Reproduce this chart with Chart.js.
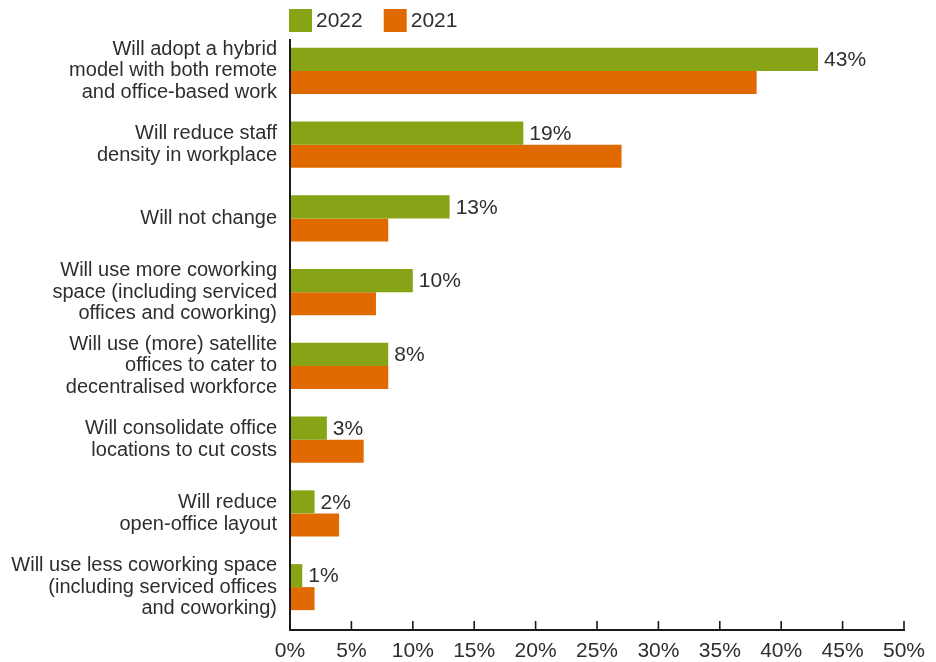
<!DOCTYPE html>
<html>
<head>
<meta charset="utf-8">
<script src="https://cdn.jsdelivr.net/npm/chart.js@4/dist/chart.umd.min.js"></script>
<style>
  html, body { margin: 0; padding: 0; background: #ffffff; }
  #wrap { width: 936px; height: 662px; }
</style>
</head>
<body>
<div id="wrap"><canvas id="c" width="936" height="662"></canvas></div>
<script>
const categories = [
  ["Will adopt a hybrid", "model with both remote", "and office-based work"],
  ["Will reduce staff", "density in workplace"],
  "Will not change",
  ["Will use more coworking", "space (including serviced", "offices and coworking)"],
  ["Will use (more) satellite", "offices to cater to", "decentralised workforce"],
  ["Will consolidate office", "locations to cut costs"],
  ["Will reduce", "open-office layout"],
  ["Will use less coworking space", "(including serviced offices", "and coworking)"]
];
const seriesNames = ["2022", "2021"];
const values2022 = [43, 19, 13, 10, 8, 3, 2, 1];
const values2021 = [38, 27, 8, 7, 8, 6, 4, 2];
const xMin = 0, xMax = 50, xStep = 5;

const GREEN = "#86a416";
const ORANGE = "#e06a00";
const TEXT = "#2e2e2e";
const FONT = "'Liberation Sans', Arial, Helvetica, sans-serif";

const axisPlugin = {
  id: "axisLines",
  afterDatasetsDraw(chart) {
    const ctx = chart.ctx;
    const area = chart.chartArea;
    const xs = chart.scales.x;
    const axisY = area.bottom + 6;
    ctx.save();
    ctx.strokeStyle = "#1a1a1a";
    ctx.lineWidth = 2;
    ctx.beginPath();
    ctx.moveTo(area.left, area.top + 5);
    ctx.lineTo(area.left, axisY + 1);
    ctx.moveTo(area.left - 1, axisY);
    ctx.lineTo(xs.getPixelForValue(xMax) + 1, axisY);
    ctx.stroke();
    ctx.lineWidth = 1.6;
    ctx.beginPath();
    xs.ticks.forEach(t => {
      const px = xs.getPixelForValue(t.value);
      ctx.moveTo(px, axisY);
      ctx.lineTo(px, axisY - 9);
    });
    ctx.stroke();
    ctx.restore();
  }
};

const valueLabelPlugin = {
  id: "valueLabels",
  afterDatasetsDraw(chart) {
    const ctx = chart.ctx;
    const meta = chart.getDatasetMeta(0);
    const data = chart.data.datasets[0].data;
    ctx.save();
    ctx.font = "21px " + FONT;
    ctx.fillStyle = TEXT;
    ctx.textAlign = "left";
    ctx.textBaseline = "middle";
    meta.data.forEach((bar, i) => {
      ctx.fillText(data[i] + "%", bar.x + 6, bar.y + 1);
    });
    ctx.restore();
  }
};

const legendPlugin = {
  id: "customLegend",
  afterDraw(chart) {
    const ctx = chart.ctx;
    const area = chart.chartArea;
    let x = area.left - 1;
    const top = 9, box = 23;
    ctx.save();
    ctx.font = "21px " + FONT;
    ctx.textAlign = "left";
    ctx.textBaseline = "middle";
    chart.data.datasets.forEach(ds => {
      ctx.fillStyle = ds.backgroundColor;
      ctx.fillRect(x, top, box, box);
      ctx.fillStyle = TEXT;
      const tx = x + box + 4;
      ctx.fillText(ds.label, tx, top + box / 2 + 1);
      x = tx + ctx.measureText(ds.label).width + 21;
    });
    ctx.restore();
  }
};

new Chart(document.getElementById("c"), {
  type: "bar",
  data: {
    labels: categories,
    datasets: [
      { label: seriesNames[0], data: values2022, backgroundColor: GREEN, borderWidth: 0 },
      { label: seriesNames[1], data: values2021, backgroundColor: ORANGE, borderWidth: 0 }
    ]
  },
  options: {
    indexAxis: "y",
    responsive: false,
    animation: false,
    devicePixelRatio: 1,
    categoryPercentage: 0.624,
    barPercentage: 1.0,
    layout: { padding: { left: 0, right: 32, top: 34, bottom: 0 } },
    plugins: {
      legend: { display: false },
      tooltip: { enabled: false }
    },
    scales: {
      x: {
        type: "linear",
        min: xMin,
        max: xMax,
        grid: { display: false, drawTicks: false },
        border: { display: false },
        ticks: {
          stepSize: xStep,
          padding: 15,
          color: TEXT,
          font: { family: FONT, size: 21 },
          callback: v => v + "%"
        },
        afterFit(scale) {
          scale.height = 38;
          scale.paddingLeft = 0;
          scale.paddingRight = 0;
        }
      },
      y: {
        grid: { display: false, drawTicks: false },
        border: { display: false },
        ticks: {
          padding: 13,
          color: TEXT,
          font: { family: FONT, size: 20, lineHeight: 1.08 }
        },
        afterFit(scale) {
          scale.width = 290;
          scale.paddingTop = 0;
          scale.paddingBottom = 0;
        }
      }
    }
  },
  plugins: [axisPlugin, valueLabelPlugin, legendPlugin]
});
</script>
</body>
</html>
